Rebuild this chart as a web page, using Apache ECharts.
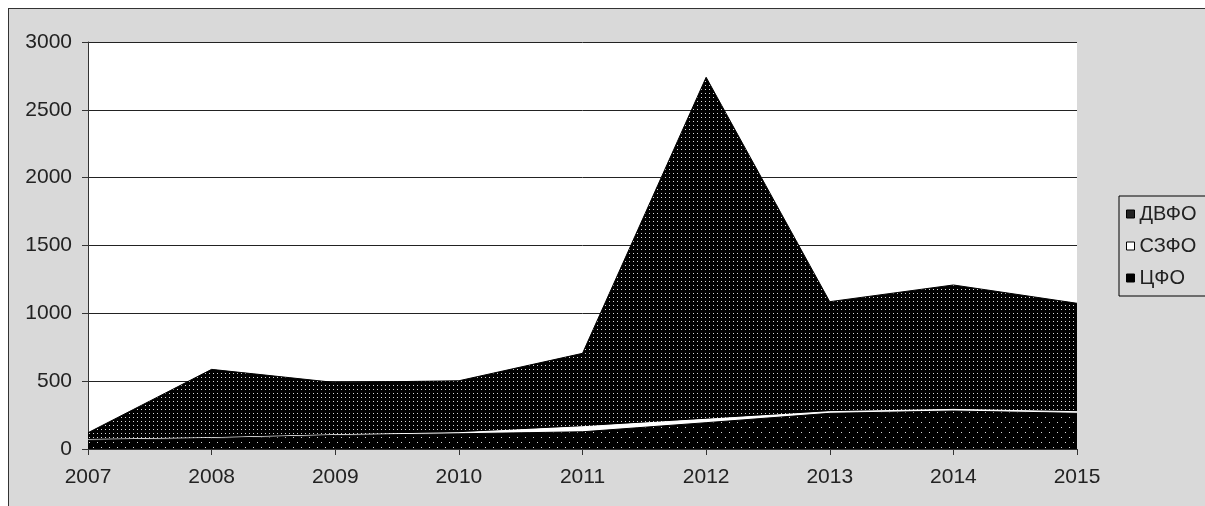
<!DOCTYPE html>
<html>
<head>
<meta charset="utf-8">
<script src="https://cdn.jsdelivr.net/npm/echarts@6/dist/echarts.min.js"></script>
<style>
html,body{margin:0;padding:0;background:#fff;overflow:hidden;width:1205px;height:506px;}
#bg{position:absolute;left:8px;top:8px;width:1300px;height:600px;background:#d9d9d9;border-left:1px solid #333;border-top:1px solid #333;}
#chart{position:absolute;left:0;top:0;width:1205px;height:506px;}
</style>
</head>
<body>
<div id="bg"></div>
<div id="chart"></div>
<script>
const years = ['2007','2008','2009','2010','2011','2012','2013','2014','2015'];
const cfo  = [65, 78, 100, 112, 127, 194, 263, 280, 263];      // ЦФО
const szfo = [5, 5, 5, 8, 37, 25, 12, 12, 12];                   // СЗФО
const dvfo = [50, 504, 385, 383, 541, 2521, 811, 917, 799];      // ДВФО
const yTicks = [0, 500, 1000, 1500, 2000, 2500, 3000];

function makePattern(w, h, bg, dot, dots) {
  const c = document.createElement('canvas');
  c.width = w; c.height = h;
  const ctx = c.getContext('2d');
  ctx.fillStyle = bg; ctx.fillRect(0, 0, w, h);
  ctx.fillStyle = dot;
  dots.forEach(p => ctx.fillRect(p[0], p[1], 1, 1));
  return c;
}
const densePat = makePattern(4, 4, '#000', '#d8d8d8', [[1,1]]);
const sparsePat = makePattern(8, 10, '#000', '#d8d8d8', [[1,2],[5,7]]);

const font = 'Liberation Sans, Arial, sans-serif';
const chart = echarts.init(document.getElementById('chart'), null, {renderer: 'canvas'});
chart.setOption({
  backgroundColor: 'transparent',
  animation: false,
  grid: {left: 88, top: 42, width: 989, height: 407, show: true, backgroundColor: '#fff', borderWidth: 0},
  legend: {
    orient: 'vertical', left: 1119, top: 196,
    padding: [8, 40, 8, 7], itemGap: 12, itemWidth: 8, itemHeight: 8,
    borderColor: '#000', borderWidth: 1, backgroundColor: '#d9d9d9',
    textStyle: {fontFamily: font, fontSize: 20, color: '#222'},
    data: [
      {name: 'ДВФО', icon: 'rect', itemStyle: {color: '#222', borderColor: '#000', borderWidth: 1}},
      {name: 'СЗФО', icon: 'rect', itemStyle: {color: '#fff', borderColor: '#000', borderWidth: 1}},
      {name: 'ЦФО', icon: 'rect', itemStyle: {color: '#000', borderColor: '#000', borderWidth: 1}}
    ]
  },
  xAxis: {
    type: 'category', data: years, boundaryGap: false,
    axisLine: {lineStyle: {color: '#333', width: 1}},
    axisTick: {show: true, length: 6, lineStyle: {color: '#333'}},
    axisLabel: {fontFamily: font, fontSize: 21, color: '#222', margin: 18, showMinLabel: true, showMaxLabel: true, interval: 0},
    splitLine: {show: false}
  },
  yAxis: {
    type: 'value', min: yTicks[0], max: yTicks[yTicks.length - 1], interval: 500,
    axisLine: {show: true, lineStyle: {color: '#333', width: 1}},
    axisTick: {show: true, length: 6, lineStyle: {color: '#333'}},
    axisLabel: {fontFamily: font, fontSize: 21, color: '#222', margin: 16, formatter: v => String(v)},
    splitLine: {show: true, lineStyle: {color: '#222', width: 1}}
  },
  series: [
    {name: 'ЦФО', type: 'line', stack: 'total', data: cfo, showSymbol: false, symbol: 'none',
     lineStyle: {color: '#000', width: 1}, itemStyle: {color: '#000'},
     areaStyle: {color: {image: sparsePat, repeat: 'repeat'}, opacity: 1}, z: 3},
    {name: 'СЗФО', type: 'line', stack: 'total', data: szfo, showSymbol: false, symbol: 'none',
     lineStyle: {color: '#fff', width: 1}, itemStyle: {color: '#fff'},
     areaStyle: {color: '#fff', opacity: 1}, z: 2},
    {name: 'ДВФО', type: 'line', stack: 'total', data: dvfo, showSymbol: false, symbol: 'none',
     lineStyle: {color: '#000', width: 1}, itemStyle: {color: '#222'},
     areaStyle: {color: {image: densePat, repeat: 'repeat'}, opacity: 1}, z: 1}
  ]
});
</script>
</body>
</html>
